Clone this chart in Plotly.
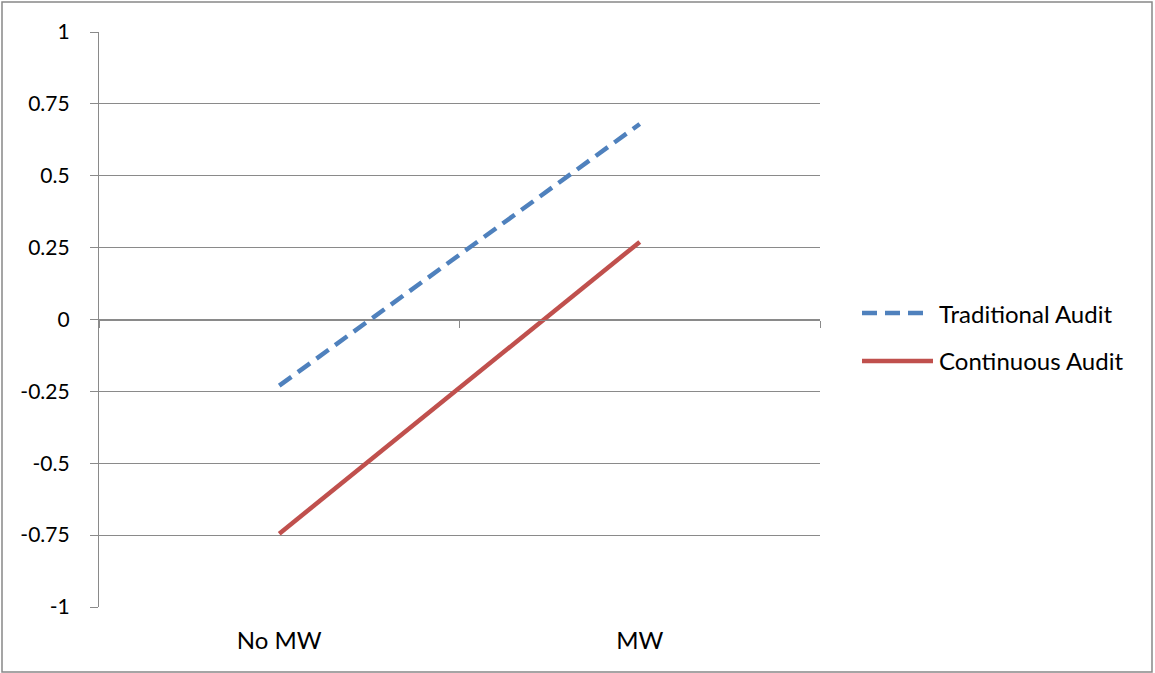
import plotly.graph_objects as go

# Data
categories = ["No MW", "MW"]
series_names = ["Traditional Audit", "Continuous Audit"]
traditional = [-0.23, 0.68]
continuous = [-0.745, 0.27]
y_ticks = [1, 0.75, 0.5, 0.25, 0, -0.25, -0.5, -0.75, -1]
y_tick_labels = ["1", "0.75", "0.5", "0.25", "0", "-0.25", "-0.5", "-0.75", "-1"]

W, H = 1155, 673
L, R, T, B = 99, 820, 32, 607  # plot area in pixels

FONT = "Lato"
TICK_SIZE = 21
TEXT_SIZE = 24
GRID = "#8a8a8a"
BLUE = "#4F81BD"
RED = "#C0504D"
DASH = "15px,8px"


def px_x(p):
    return (p - L) / (R - L)


def px_y(p):
    return (B - p) / (B - T)


fig = go.Figure()
fig.add_trace(go.Scatter(x=categories, y=traditional, mode="lines", name=series_names[0],
                         line=dict(color=BLUE, width=4.5, dash=DASH), showlegend=False))
fig.add_trace(go.Scatter(x=categories, y=continuous, mode="lines", name=series_names[1],
                         line=dict(color=RED, width=4.5), showlegend=False))
# carrier trace for the category axis drawn through zero
fig.add_trace(go.Scatter(x=categories, y=[None, None], xaxis="x2", yaxis="y",
                         mode="lines", showlegend=False, hoverinfo="skip"))

fig.update_layout(
    width=W, height=H,
    margin=dict(l=L, r=W - R, t=T, b=H - B),
    paper_bgcolor="white", plot_bgcolor="white",
    font=dict(family=FONT, size=TEXT_SIZE, color="#000000"),
    xaxis=dict(
        type="category", range=[-0.5, 1.5], showgrid=False, zeroline=False,
        showline=False, ticks="", tickfont=dict(size=TEXT_SIZE, family=FONT),
        ticklabelstandoff=17,
    ),
    xaxis2=dict(
        type="category", overlaying="x", matches="x", anchor="free", position=0.5,
        showline=True, linecolor=GRID, linewidth=1.3, ticks="outside",
        tickson="boundaries", ticklen=7, tickcolor=GRID, tickwidth=1.3,
        showticklabels=False, showgrid=False, zeroline=False,
    ),
    yaxis=dict(
        range=[-1, 1], tickvals=y_ticks, ticktext=y_tick_labels,
        showgrid=True, gridcolor=GRID, gridwidth=1.3, zeroline=False,
        showline=True, linecolor=GRID, linewidth=1.3,
        ticks="outside", ticklen=8, tickcolor=GRID, tickwidth=1.3,
        tickfont=dict(size=TICK_SIZE, family=FONT), ticklabelstandoff=16,
    ),
)

# frame around the whole chart
fig.add_shape(type="rect", xref="paper", yref="paper",
              x0=px_x(2), x1=px_x(1152), y0=px_y(672), y1=px_y(2),
              line=dict(color="#888888", width=1.5), layer="below")

# legend
legend_rows = [(series_names[0], BLUE, DASH, 313), (series_names[1], RED, "solid", 361)]
for name, color, dash, ypix in legend_rows:
    fig.add_shape(type="line", xref="paper", yref="paper",
                  x0=px_x(862), x1=px_x(933 if dash == "solid" else 925),
                  y0=px_y(ypix), y1=px_y(ypix),
                  line=dict(color=color, width=4.5, dash=dash))
    fig.add_annotation(xref="paper", yref="paper", x=px_x(937), y=px_y(ypix),
                       text=name, showarrow=False, xanchor="left", yanchor="middle",
                       font=dict(size=TEXT_SIZE, family=FONT, color="#000000"))

fig.write_html("out.html")
